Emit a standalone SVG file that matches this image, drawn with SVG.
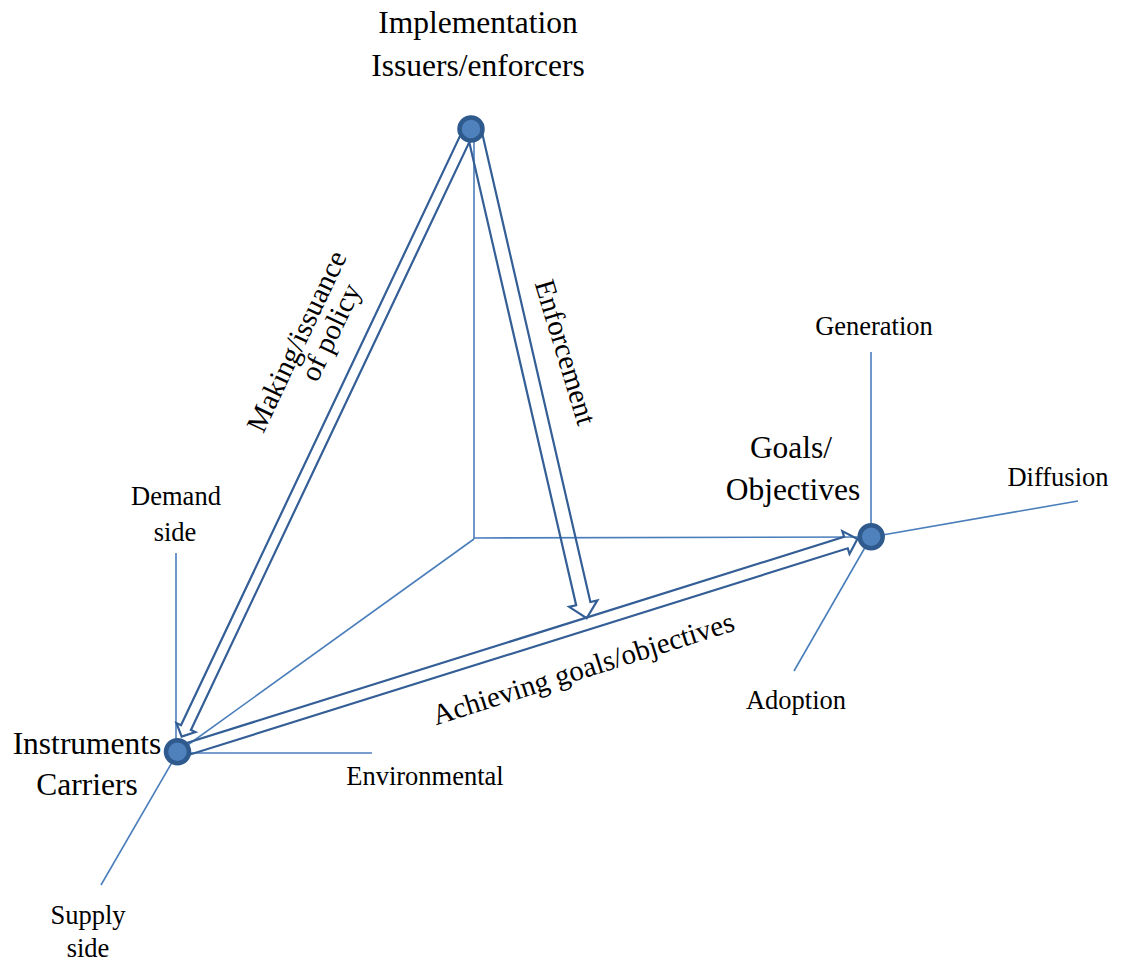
<svg xmlns="http://www.w3.org/2000/svg" width="1123" height="964" viewBox="0 0 1123 964">
<style>
.ax{stroke:#4A7EBB;stroke-width:1.6;fill:none}
.ar{stroke:#335E96;stroke-width:2.2;fill:none;stroke-linejoin:miter}
.nd{fill:#4F81BD;stroke:#2F5A8E;stroke-width:4.5}
text{font-family:"Liberation Serif","Times New Roman",serif;fill:#000}
.big{font-size:31.5px}
.sm{font-size:26.5px}
.lbl{font-size:29px}
</style>
<rect width="1123" height="964" fill="#fff"/>
<g id="connectors">
<g id="axes">
<line class="ax" x1="474" y1="128" x2="474" y2="539"/>
<line class="ax" x1="474" y1="538" x2="871" y2="537"/>
<line class="ax" x1="474" y1="539" x2="178" y2="752"/>
<line class="ax" x1="176" y1="752" x2="176" y2="553"/>
<line class="ax" x1="178" y1="753" x2="372" y2="753"/>
<line class="ax" x1="178" y1="752" x2="101" y2="885"/>
<line class="ax" x1="871" y1="537" x2="871" y2="352"/>
<line class="ax" x1="871" y1="537" x2="1078" y2="501"/>
<line class="ax" x1="871" y1="537" x2="794" y2="671"/>
</g>
<polygon id="arrow-making" class="ar" transform="translate(468,132) rotate(115.34)" points="0,-5.5 659,-5.5 659,-10.5 669,0 659,10.5 659,5.5 0,5.5"/>
<polygon id="arrow-enforcement" class="ar" transform="translate(474.4,132) rotate(77)" points="0,-7.3 484,-7.3 484,-14.5 499,0 484,14.5 484,7.3 0,7.3"/>
<polygon id="arrow-achieving" class="ar" transform="translate(178,752) rotate(-17.41)" points="0,-6 700,-6 700,-12 712,0 700,12 700,6 0,6"/>
</g>
<g id="node-implementation">
<circle class="nd" cx="471" cy="129" r="11.5"/>
<text class="big" font-family="Liberation Serif, serif" x="478" y="33" text-anchor="middle">Implementation</text>
<text class="big" font-family="Liberation Serif, serif" x="478" y="76" text-anchor="middle">Issuers/enforcers</text>
</g>
<g id="node-instruments">
<circle class="nd" cx="177.5" cy="751.7" r="11.5"/>
<text class="big" font-family="Liberation Serif, serif" x="87" y="754" text-anchor="middle">Instruments</text>
<text class="big" font-family="Liberation Serif, serif" x="87" y="795" text-anchor="middle">Carriers</text>
<text class="sm" x="176" y="504.5" text-anchor="middle">Demand</text>
<text class="sm" x="175" y="540.5" text-anchor="middle">side</text>
<text class="sm" x="425" y="784.5" text-anchor="middle">Environmental</text>
<text class="sm" x="88" y="923.5" text-anchor="middle">Supply</text>
<text class="sm" x="88" y="956.5" text-anchor="middle">side</text>
</g>
<g id="node-goals">
<circle class="nd" cx="871.2" cy="536.7" r="11.5"/>
<text class="big" font-family="Liberation Serif, serif" x="791" y="458" text-anchor="middle">Goals/</text>
<text class="big" font-family="Liberation Serif, serif" x="793" y="500" text-anchor="middle">Objectives</text>
<text class="sm" x="874" y="334.5" text-anchor="middle">Generation</text>
<text class="sm" x="1058" y="485.5" text-anchor="middle">Diffusion</text>
<text class="sm" x="796" y="708.5" text-anchor="middle">Adoption</text>
</g>
<g id="edge-labels">
<text class="lbl" transform="translate(296,341) rotate(-64.66)" text-anchor="middle" dy="0.35em">Making/issuance</text>
<text class="lbl" transform="translate(330,332) rotate(-64.66)" text-anchor="middle" dy="0.35em">of policy</text>
<text class="lbl" transform="translate(566,352) rotate(73)" text-anchor="middle" dy="0.35em">Enforcement</text>
<text class="lbl" transform="translate(583,668) rotate(-17.6)" text-anchor="middle" dy="0.35em">Achieving goals/objectives</text>
</g>
</svg>
